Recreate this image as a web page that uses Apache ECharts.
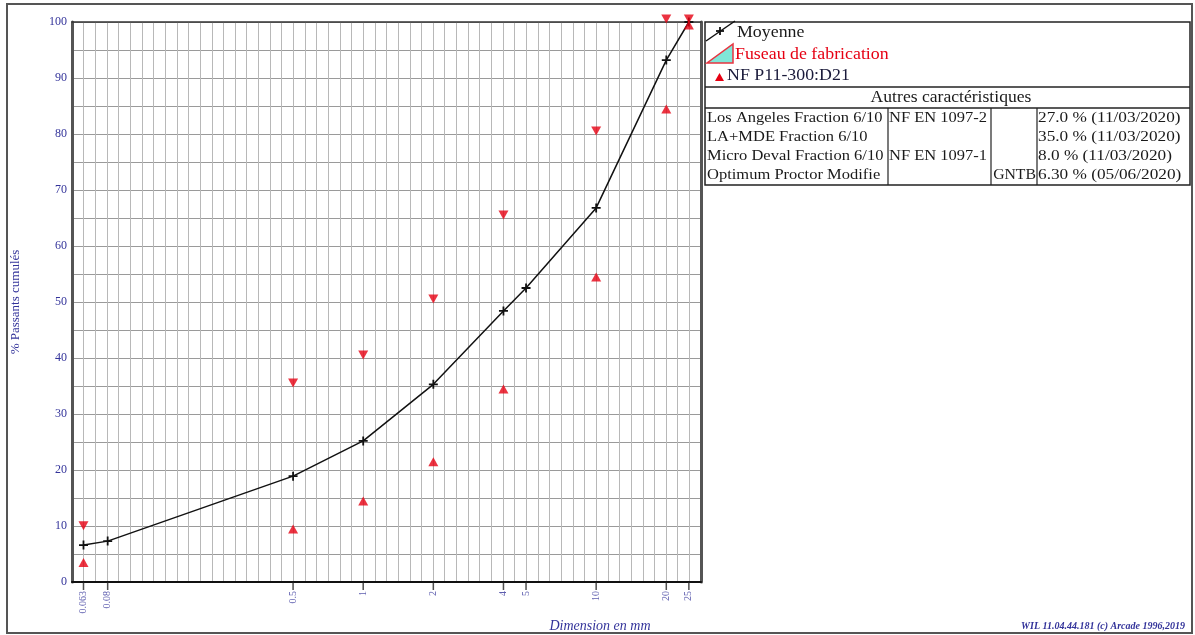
<!DOCTYPE html>
<html><head><meta charset="utf-8">
<script src="https://cdn.jsdelivr.net/npm/echarts@6/dist/echarts.min.js"></script>
<style>html,body{margin:0;padding:0;background:#fff}#c{width:1195px;height:635px}</style>
</head><body><div id="c"></div>
<script>
// ---- data ----
const sieves = [0.063, 0.08, 0.5, 1, 2, 4, 5, 10, 20, 25];
const sieveLabels = ['0.063', '0.08', '0.5', '1', '2', '4', '5', '10', '20', '25'];
const moyenne = [6.6, 7.3, 18.9, 25.2, 35.3, 48.4, 52.5, 66.8, 93.2, 100];
const specSieves = [0.063, 0.5, 1, 2, 4, 10, 20, 25];
const specUpper = [9.5, 35, 40, 50, 65, 80, 100, 100];
const specLower = [4, 10, 15, 22, 35, 55, 85, 100];
const xLogMin = -1.25, xLogMax = 1.45, xGridStep = 0.05;
const legendItems = ['Moyenne', 'Fuseau de fabrication', 'NF P11-300:D21'];
const tableTitle = 'Autres caractéristiques';
const tableCol1 = ['Los Angeles Fraction 6/10', 'LA+MDE Fraction 6/10', 'Micro Deval Fraction 6/10', 'Optimum Proctor Modifie'];
const tableCol2 = ['NF EN 1097-2', '', 'NF EN 1097-1', ''];
const tableCol3 = ['', '', '', 'GNTB'];
const tableCol4 = ['27.0 % (11/03/2020)', '35.0 % (11/03/2020)', '8.0 % (11/03/2020)', '6.30 % (05/06/2020)'];
const yTitle = '% Passants cumulés';
const xTitle = 'Dimension en mm';
const footer = 'WIL 11.04.44.181 (c) Arcade 1996,2019';

const BLUE = '#33339a', RED = '#e60012', SERIF = 'Liberation Serif';
const plus = 'path://M4,0h2v4h4v2h-4v4h-2v-4h-4v-2h4z';
const downTri = 'path://M0,0L10,0L5,9Z';
const upTri = 'path://M5,0L10,9L0,9Z';

const chart = echarts.init(document.getElementById('c'));

const g = [];
g.push({type:'rect', shape:{x:7,y:4,width:1185,height:629}, style:{fill:'none', stroke:'#555', lineWidth:2}, silent:true});
g.push({type:'rect', shape:{x:705,y:22,width:485,height:163}, style:{fill:'#fff', stroke:'#222', lineWidth:1.5}, silent:true});
[87,108].forEach(y => g.push({type:'line', shape:{x1:705,y1:y,x2:1190,y2:y}, style:{stroke:'#222', lineWidth:1.5}, silent:true}));
[888,991,1037].forEach(x => g.push({type:'line', shape:{x1:x,y1:108,x2:x,y2:185}, style:{stroke:'#222', lineWidth:1.2}, silent:true}));
// legend icons
g.push({type:'line', shape:{x1:706,y1:41,x2:735,y2:21}, style:{stroke:'#111', lineWidth:1.5}, silent:true});
g.push({type:'line', shape:{x1:716,y1:31,x2:724,y2:31}, style:{stroke:'#111', lineWidth:1.8}, silent:true});
g.push({type:'line', shape:{x1:720,y1:27,x2:720,y2:35}, style:{stroke:'#111', lineWidth:1.8}, silent:true});
g.push({type:'polygon', shape:{points:[[707,63],[733,63],[733,44]]}, style:{fill:'#80e6d8', stroke:'#e8333f', lineWidth:1.5}, silent:true});
g.push({type:'polygon', shape:{points:[[715,81],[724,81],[719.5,73]]}, style:{fill:RED}, silent:true});
const legColors = ['#1a1a1a', RED, '#1a1a3a'];
const legX = [737, 735, 727], legY = [33, 55, 76];
legendItems.forEach((t,i) => g.push({type:'text', x:legX[i], y:legY[i], scaleX:1.05, style:{text:t, fill:legColors[i], font:'17px "Liberation Serif"', textVerticalAlign:'middle'}, silent:true}));
g.push({type:'text', x:951, y:98, scaleX:1.1, style:{text:tableTitle, fill:'#1a1a1a', font:'16px "Liberation Serif"', textAlign:'center', textVerticalAlign:'middle'}, silent:true});
const rowY = [118, 137, 156, 175];
tableCol1.forEach((t,i) => {
  g.push({type:'text', x:707, y:rowY[i], scaleX:1.1, style:{text:t, fill:'#1a1a1a', font:'15px "Liberation Serif"', textVerticalAlign:'middle'}, silent:true});
  if (tableCol2[i]) g.push({type:'text', x:889, y:rowY[i], scaleX:1.1, style:{text:tableCol2[i], fill:'#1a1a1a', font:'15px "Liberation Serif"', textVerticalAlign:'middle'}, silent:true});
  if (tableCol3[i]) g.push({type:'text', x:1036, y:rowY[i], scaleX:1.05, style:{text:tableCol3[i], fill:'#1a1a1a', font:'15px "Liberation Serif"', textAlign:'right', textVerticalAlign:'middle'}, silent:true});
  g.push({type:'text', x:1038, y:rowY[i], scaleX:1.15, style:{text:tableCol4[i], fill:'#1a1a1a', font:'15px "Liberation Serif"', textVerticalAlign:'middle'}, silent:true});
});
g.push({type:'text', x:600, y:626, style:{text:xTitle, fill:BLUE, font:'italic 14px "Liberation Serif"', textAlign:'center', textVerticalAlign:'middle'}, silent:true});
g.push({type:'text', x:1185, y:626, style:{text:footer, fill:BLUE, font:'italic bold 10px "Liberation Serif"', textAlign:'right', textVerticalAlign:'middle'}, silent:true});

chart.setOption({
  animation: false,
  backgroundColor: '#fff',
  grid: {left: 72, right: 494, top: 22, bottom: 53, containLabel: false},
  xAxis: [
    {type:'log', logBase:10, min: Math.pow(10, xLogMin), max: Math.pow(10, xLogMax), position:'bottom',
     axisLine:{show:true, onZero:false, lineStyle:{color:'#111', width:2}},
     axisTick:{show:false}, axisLabel:{show:false}, splitLine:{show:false}, minorTick:{show:false}},
    {type:'value', min:xLogMin, max:xLogMax, interval:xGridStep, position:'top',
     axisLine:{show:true, onZero:false, lineStyle:{color:'#333', width:1.5}},
     axisTick:{show:false}, axisLabel:{show:false}, splitLine:{show:true, lineStyle:{color:'#b8b8b8', width:1}}}
  ],
  yAxis: [
    {type:'value', min:0, max:100, interval:5, name: yTitle, nameLocation:'middle', nameGap:50, nameRotate:90,
     nameTextStyle:{color:BLUE, fontFamily:SERIF, fontSize:13},
     axisLine:{show:true, onZero:false, lineStyle:{color:'#555', width:3}},
     axisTick:{show:false},
     axisLabel:{color:BLUE, fontFamily:SERIF, fontSize:12, margin:5, formatter: v => (v % 10 === 0 ? String(v) : '')},
     splitLine:{show:true, lineStyle:{color:'#9a9a9a', width:1}}},
    {type:'value', min:0, max:100, position:'right',
     axisLine:{show:true, onZero:false, lineStyle:{color:'#555', width:3}},
     axisTick:{show:false}, axisLabel:{show:false}, splitLine:{show:false}}
  ],
  graphic: g,
  series: [
    {type:'scatter', name:'ticks', xAxisIndex:0, yAxisIndex:0, silent:true, clip:false, z:5,
     data: sieves.map((s,i) => ({value:[s,0], label:{formatter: sieveLabels[i]}})),
     symbol:'rect', symbolSize:[1.5,8], symbolOffset:[0,4], itemStyle:{color:'#222'},
     label:{show:true, position:'bottom', distance:1, rotate:90, align:'right', verticalAlign:'middle',
            fontSize:10, color:BLUE, fontFamily:SERIF}},
    {type:'line', name:legendItems[0], xAxisIndex:0, yAxisIndex:0, clip:false, z:4,
     data: sieves.map((s,i) => [s, moyenne[i]]),
     symbol: plus, symbolSize: 9, showAllSymbol:true,
     lineStyle:{color:'#111', width:1.5}, itemStyle:{color:'#111'}},
    {type:'scatter', name:legendItems[2] + ' max', xAxisIndex:0, yAxisIndex:0, clip:false, z:6,
     data: specSieves.map((s,i) => [s, specUpper[i]]),
     symbol: downTri, symbolSize:[10,9], symbolOffset:[0,-3], itemStyle:{color:RED}},
    {type:'scatter', name:legendItems[2] + ' min', xAxisIndex:0, yAxisIndex:0, clip:false, z:6,
     data: specSieves.map((s,i) => [s, specLower[i]]),
     symbol: upTri, symbolSize:[10,9], symbolOffset:[0,3], itemStyle:{color:RED}}
  ]
});
</script>
</body></html>
